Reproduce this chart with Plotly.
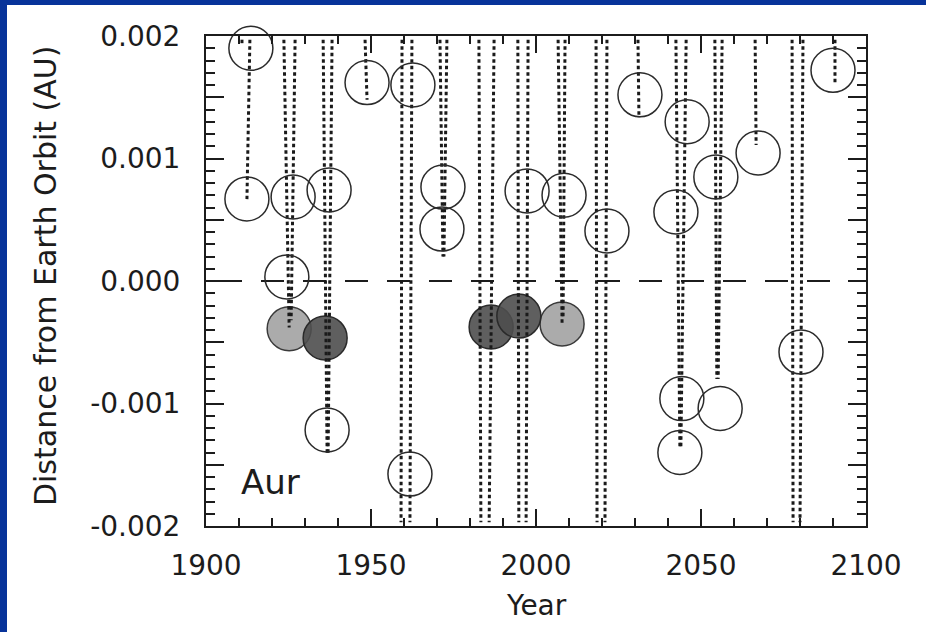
import plotly.graph_objects as go

# Close-approach nodes of the Aurigid trail (year, distance from Earth's orbit in AU)
open_year = [1913.6, 1912.4, 1926.4, 1937.3, 1924.5, 1948.8, 1962.7, 1971.8, 1971.5,
             1997.3, 2008.5, 2021.5, 2031.5, 2045.8, 2042.4, 2054.5, 2067.3, 2090.0,
             1936.7, 1961.8, 2044.2, 2055.8, 2043.6, 2080.3]
open_dist = [0.00190, 0.00067, 0.000686, 0.000743, 0.000033, 0.00162, 0.00160, 0.000767, 0.000424,
             0.000735, 0.00070, 0.000408, 0.00152, 0.00130, 0.000563, 0.00085, 0.001045, 0.00172,
             -0.001216, -0.001576, -0.00096, -0.00104, -0.00140, -0.00058]

light_year = [1925.2, 2007.9]
light_dist = [-0.00039, -0.00035]

dark_year = [1936.1, 1986.4, 1994.8]
dark_dist = [-0.000465, -0.000375, -0.000286]

# Dotted trail segments: start (year, AU) -> end (year, AU)
trail_year_start = [1910.9, 1913.3, 1923.6, 1927.0, 1935.5, 1938.2, 1948.2, 1959.4, 1962.4,
                    1970.9, 1973.0, 1982.7, 1987.3, 1994.5, 1997.6, 2006.7, 2008.8, 2018.2,
                    2021.5, 2030.9, 2042.4, 2045.5, 2054.2, 2056.4, 2066.4, 2077.6, 2080.9, 2090.6]
trail_dist_start = [0.00197] * 28
trail_year_end = [1910.9, 1912.4, 1925.2, 1925.8, 1936.7, 1937.0, 1948.8, 1959.1, 1961.8,
                  1971.8, 1972.1, 1983.3, 1985.8, 1994.8, 1997.0, 2007.9, 2008.2, 2018.5,
                  2020.9, 2031.2, 2043.6, 2043.9, 2054.8, 2055.2, 2066.7, 2077.9, 2080.0, 2090.6]
trail_dist_end = [0.00192, 0.00066, -0.00038, -0.00032, -0.00142, -0.00142, 0.00148, -0.00197, -0.00197,
                  0.00020, 0.00020, -0.00197, -0.00197, -0.00197, -0.00197, -0.00034, -0.00030, -0.00197,
                  -0.00197, 0.00133, -0.00136, -0.00136, -0.00080, -0.00080, 0.00111, -0.00197, -0.00197, 0.00162]

zero_year = [1900, 2100]
zero_dist = [0.0, 0.0]

x_ticks = [1900, 1950, 2000, 2050, 2100]
y_ticks = [-0.002, -0.0015, -0.001, -0.0005, 0.0, 0.0005, 0.001, 0.0015, 0.002]
y_tick_text = ["-0.002", "", "-0.001", "", "0.000", "", "0.001", "", "0.002"]

FONT = "DejaVu Sans"
INK = "#1c1c1c"
FRAME_BLUE = "#07339a"

# Assemble trail segments into one polyline broken by gaps
trail_x, trail_y = [], []
for xs, ys, xe, ye in zip(trail_year_start, trail_dist_start, trail_year_end, trail_dist_end):
    trail_x += [xs, xe, None]
    trail_y += [ys, ye, None]

fig = go.Figure()

fig.add_trace(go.Scatter(
    x=light_year, y=light_dist, mode="markers", cliponaxis=False,
    marker=dict(symbol="circle", size=44, color="#ababab",
                line=dict(color="#3a3a3a", width=1.5)),
    showlegend=False, hoverinfo="skip"))

fig.add_trace(go.Scatter(
    x=dark_year, y=dark_dist, mode="markers", cliponaxis=False,
    marker=dict(symbol="circle", size=44, color="rgba(78,78,78,0.9)",
                line=dict(color="#2a2a2a", width=1.5)),
    showlegend=False, hoverinfo="skip"))

fig.add_trace(go.Scatter(
    x=zero_year, y=zero_dist, mode="lines",
    line=dict(color=INK, width=2.2, dash="0px,13px,23px,6px"),
    showlegend=False, hoverinfo="skip"))

fig.add_trace(go.Scatter(
    x=trail_x, y=trail_y, mode="lines", connectgaps=False,
    line=dict(color="#1a1a1a", width=3, dash="3.5px,3px"),
    showlegend=False, hoverinfo="skip"))

fig.add_trace(go.Scatter(
    x=open_year, y=open_dist, mode="markers", cliponaxis=False,
    marker=dict(symbol="circle-open", size=44, color="#2b2b2b",
                line=dict(width=1.5)),
    showlegend=False, hoverinfo="skip"))

axis_common = dict(
    showline=True, linewidth=2, linecolor=INK, mirror="ticks",
    ticks="inside", tickwidth=2, tickcolor=INK,
    showgrid=False, zeroline=False,
    tickfont=dict(family=FONT, size=28, color=INK),
)

fig.update_xaxes(
    range=[1900, 2100], tickmode="array", tickvals=x_ticks,
    ticklen=17, ticklabelstandoff=13,
    minor=dict(ticks="inside", ticklen=8, tickwidth=1.6, tickcolor=INK,
               tickmode="linear", tick0=1900, dtick=10, showgrid=False),
    **axis_common)

fig.update_yaxes(
    range=[-0.002, 0.002], tickmode="array", tickvals=y_ticks, ticktext=y_tick_text,
    ticklen=18, ticklabelstandoff=18,
    minor=dict(ticks="inside", ticklen=9, tickwidth=1.6, tickcolor=INK,
               tickmode="linear", tick0=0, dtick=0.0001, showgrid=False),
    **axis_common)

fig.update_layout(
    width=926, height=632, autosize=False,
    margin=dict(l=206, r=60, t=36, b=106),
    paper_bgcolor="white", plot_bgcolor="white",
    annotations=[
        dict(text="Distance from Earth Orbit (AU)", textangle=-90,
             xref="paper", yref="paper", x=-0.244, y=0.512,
             showarrow=False, xanchor="center", yanchor="middle",
             font=dict(family=FONT, size=30, color=INK)),
        dict(text="Year", xref="paper", yref="paper", x=0.5, y=-0.163,
             showarrow=False, xanchor="center", yanchor="middle",
             font=dict(family=FONT, size=28, color=INK)),
        dict(text="Aur", xref="paper", yref="paper", x=0.097, y=0.09,
             showarrow=False, xanchor="center", yanchor="middle",
             font=dict(family=FONT, size=34, color=INK)),
    ],
    shapes=[
        # slide frame: left and top blue bands
        dict(type="rect", xref="paper", yref="paper", layer="below",
             x0=-206 / 660, x1=(7 - 206) / 660, y0=-106 / 490, y1=526 / 490,
             fillcolor=FRAME_BLUE, line=dict(width=0)),
        dict(type="rect", xref="paper", yref="paper", layer="below",
             x0=-206 / 660, x1=720 / 660, y0=(526 - 5) / 490, y1=526 / 490,
             fillcolor=FRAME_BLUE, line=dict(width=0)),
    ],
)

fig.write_html("out.html", config={"displayModeBar": False})
